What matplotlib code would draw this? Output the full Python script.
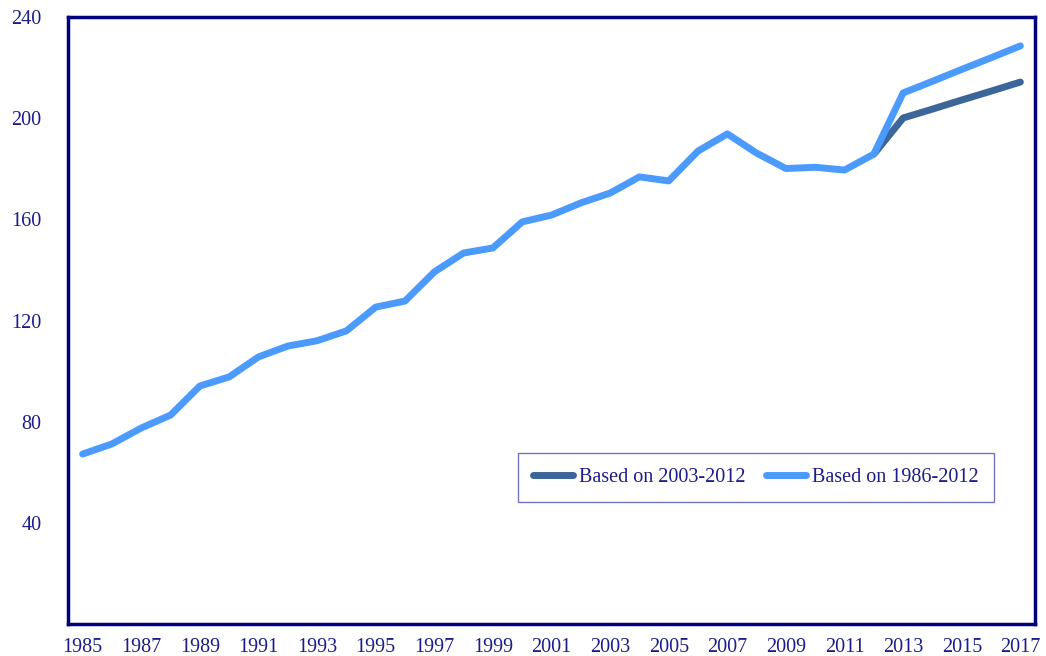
import matplotlib
matplotlib.use("Agg")
import matplotlib.pyplot as plt

years = list(range(1985, 2018))
hist = [67.2, 71.2, 77.5, 82.6, 94.1, 97.7, 105.6, 109.9, 112.0, 115.9,
        125.3, 127.7, 139.2, 146.7, 148.7, 159.0, 161.7, 166.5, 170.4, 176.8,
        175.2, 187.0, 193.8, 186.2, 180.1, 180.6, 179.5, 185.8]
proj_recent = [185.8, 200.1, 203.6, 207.2, 210.7, 214.3]   # 2012-2017
proj_long = [185.8, 210.0, 214.6, 219.3, 223.9, 228.6]     # 2012-2017
proj_years = list(range(2012, 2018))

navy = "#00007f"
text_c = "#1c1c8a"
dark = "#3c6699"
light = "#4b9bff"

plt.rcParams['font.family'] = ['Liberation Serif', 'DejaVu Serif']

fig = plt.figure(figsize=(10.46, 6.56), dpi=100)
ax = fig.add_axes([0.065, 0.0488, 0.9245, 0.9252])

ax.plot(proj_years, proj_recent, color=dark, lw=5, solid_capstyle='round',
        solid_joinstyle='round', label='Based on 2003-2012')
ax.plot(years[:28] + proj_years[1:], hist + proj_long[1:], color=light, lw=5,
        solid_capstyle='round', solid_joinstyle='round', label='Based on 1986-2012')

ax.set_xlim(1984.5, 2017.5)
ax.set_ylim(0, 240)
ax.set_xticks(range(1985, 2018, 2))
ax.set_yticks(range(40, 241, 40))
ax.tick_params(length=0, labelsize=14.5, labelcolor=text_c)
ax.tick_params(axis='y', pad=19)
ax.tick_params(axis='x', pad=10)
for s in ax.spines.values():
    s.set_color(navy)
    s.set_linewidth(2.5)

leg = ax.legend(loc='lower left', bbox_to_anchor=(0.465, 0.201), ncol=2,
                fontsize=14.5, frameon=True, fancybox=False, handlelength=2.0,
                borderpad=0.75, columnspacing=1.0, handletextpad=0.3,
                borderaxespad=0)
leg.get_frame().set_edgecolor('#5050b0')
leg.get_frame().set_linewidth(1)
for t in leg.get_texts():
    t.set_color(text_c)

fig.savefig("out.png", dpi=100)
